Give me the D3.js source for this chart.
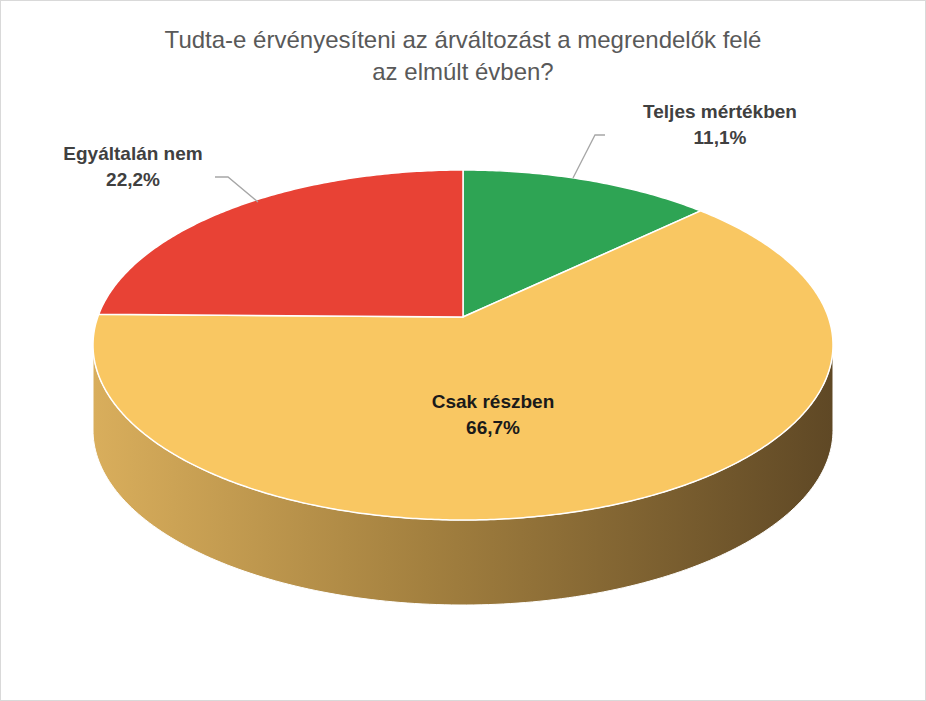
<!DOCTYPE html>
<html><head><meta charset="utf-8">
<script src="https://cdn.jsdelivr.net/npm/d3@7"></script>
<style>body{margin:0;background:#fff}</style></head>
<body><svg id="c" width="926" height="701"></svg>
<script>
const categories = ["Teljes mértékben", "Csak részben", "Egyáltalán nem"];
const values = [11.1, 66.7, 22.2];
const colors = ["#2ea454", "#f9c762", "#e84235"];
const titleLines = ["Tudta-e érvényesíteni az árváltozást a megrendelők felé", "az elmúlt évben?"];

const svg = d3.select("#c");
svg.append("rect").attr("x",0.5).attr("y",0.5).attr("width",925).attr("height",700)
  .attr("fill","#fff").attr("stroke","#d9d9d9");
const cx=463, cy=345, rx=370, ry=175, depth=85, vy=317;
const pie = d3.pie().sort(null).value(d=>d)(values);
const pt = (t,dy=0)=>[cx+rx*Math.sin(t), cy-ry*Math.cos(t)+dy];
const defs = svg.append("defs");
const g = defs.append("linearGradient").attr("id","side").attr("x1","0").attr("x2","1");
g.append("stop").attr("offset","0").attr("stop-color","#d9ae5c");
g.append("stop").attr("offset","0.45").attr("stop-color","#a3803f");
g.append("stop").attr("offset","1").attr("stop-color","#5f4825");

// side wall (front half: t from 90° to 270°)
const side = [];
for(let t=Math.PI/2;t<=3*Math.PI/2+1e-6;t+=0.02) side.push(pt(t));
for(let t=3*Math.PI/2;t>=Math.PI/2-1e-6;t-=0.02) side.push(pt(t,depth));
svg.append("path").attr("d","M"+side.map(p=>p.join(",")).join("L")+"Z")
  .attr("fill","url(#side)").attr("stroke","#fff").attr("stroke-width",1);

// top slices
pie.forEach((s,i)=>{
  const pts=[[cx,vy]];
  for(let t=s.startAngle;t<s.endAngle;t+=0.01) pts.push(pt(t));
  pts.push(pt(s.endAngle));
  svg.append("path").attr("d","M"+pts.map(p=>p.join(",")).join("L")+"Z")
    .attr("fill",colors[i]).attr("stroke","#fff").attr("stroke-width",1.5);
});

// title
svg.append("text").attr("x",463).attr("text-anchor","middle").attr("font-family","Arial, Liberation Sans")
  .attr("font-size",24).attr("fill","#595959")
  .selectAll("tspan").data(titleLines).join("tspan").attr("x",463).attr("y",(d,i)=>48+i*32).text(d=>d);

// labels
const lab = [
  {x:720,y:118,line:[[605,135],[595,135],[573,178]]},
  {x:493,y:408,line:null},
  {x:133,y:160,line:[[215,177],[228,177],[258,202]]}
];
lab.forEach((l,i)=>{
  if(l.line) svg.append("polyline").attr("points",l.line.map(p=>p.join(",")).join(" "))
    .attr("fill","none").attr("stroke","#a6a6a6").attr("stroke-width",1.3);
  const t=svg.append("text").attr("text-anchor","middle").attr("font-family","Arial, Liberation Sans")
    .attr("font-size",19).attr("font-weight","bold").attr("fill",i==1?"#1a1a1a":"#404040");
  t.append("tspan").attr("x",l.x).attr("y",l.y).text(categories[i]);
  t.append("tspan").attr("x",l.x).attr("y",l.y+26).text(values[i].toFixed(1).replace(".",",")+"%");
});
</script></body></html>
